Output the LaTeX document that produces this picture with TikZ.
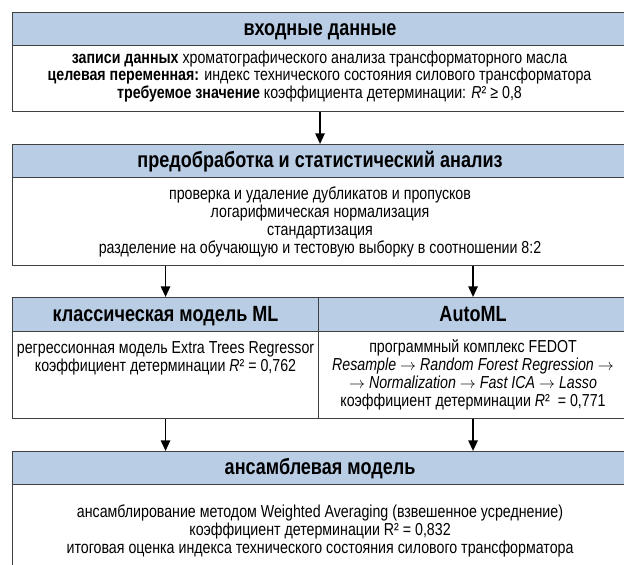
\documentclass[tikz,border=0pt]{standalone}
\usepackage{fontspec}
\setmainfont{Liberation Sans}[FakeStretch=0.82]
\usetikzlibrary{arrows.meta}
\definecolor{hdrblue}{HTML}{B9CDE5}
\definecolor{bordc}{HTML}{404040}
\newcommand\bodyf{\fontsize{13}{13.5}\selectfont}
\newcommand\bodyfs{\fontsize{13}{12}\selectfont}
\newcommand\hdrf{\bfseries\fontsize{16.5}{17}\selectfont}
\newcommand\myto{\ensuremath{\rightarrow}}
\begin{document}
\begin{tikzpicture}[x=0.75pt,y=-0.75pt,
  hdr/.style={draw=bordc, fill=hdrblue, line width=0.8pt, inner sep=0pt, anchor=north west, font=\hdrf, text height=10pt, text depth=0pt},
  bodyrect/.style={draw=bordc, line width=0.8pt, inner sep=0pt, anchor=north west},
  txt/.style={align=center, inner sep=0pt, font=\bodyf},
  arr/.style={line width=1.3pt, -{Triangle[length=8pt,width=7pt]}}]
\clip (0,0) rectangle (624,564);
\fill[white] (0,0) rectangle (624,564);
% box 1
\node[hdr, minimum width=615*0.75pt, minimum height=33*0.75pt] (h1) at (12,12) {входные данные};
\node[bodyrect, minimum width=615*0.75pt, minimum height=66*0.75pt] (b1) at (12,45) {};
\node[txt, font=\bodyfs] (t1) at (319.5,76.5) {\textbf{записи данных} хроматографического анализа трансформаторного масла\\
\textbf{целевая переменная:} индекс технического состояния силового трансформатора\\
\textbf{требуемое значение} коэффициента детерминации: \textit{R}² ≥ 0,8};
% box 2
\node[hdr, minimum width=615*0.75pt, minimum height=33*0.75pt] (h2) at (12,144) {предобработка и статистический анализ};
\node[bodyrect, minimum width=615*0.75pt, minimum height=88*0.75pt] (b2) at (12,177) {};
\node[txt] (t2) at (b2.center) {проверка и удаление дубликатов и пропусков\\
логарифмическая нормализация\\
стандартизация\\
разделение на обучающую и тестовую выборку в соотношении 8:2};
% box 3
\node[hdr, minimum width=306*0.75pt, minimum height=34*0.75pt] (h3a) at (12,297) {классическая модель ML};
\node[hdr, minimum width=309*0.75pt, minimum height=34*0.75pt] (h3b) at (318,297) {AutoML};
\node[bodyrect, minimum width=306*0.75pt, minimum height=87*0.75pt] (b3a) at (12,331) {};
\node[bodyrect, minimum width=309*0.75pt, minimum height=87*0.75pt] (b3b) at (318,331) {};
\node[txt, anchor=north] (t3a) at ([yshift=-7.5pt]b3a.north) {регрессионная модель Extra Trees Regressor\\
коэффициент детерминации \textit{R}² = 0,762};
\node[txt] (t3b) at (b3b.center) {программный комплекс FEDOT\\
\textit{Resample \myto{} Random Forest Regression \myto}\\
\textit{\myto{} Normalization \myto{} Fast ICA \myto{} Lasso}\\
коэффициент детерминации \textit{R}²~ = 0,771};
% box 4
\node[hdr, minimum width=615*0.75pt, minimum height=33*0.75pt] (h4) at (12,451) {ансамблевая модель};
\node[bodyrect, minimum width=615*0.75pt, minimum height=120*0.75pt] (b4) at (12,484) {};
\node[txt, anchor=north] (t4) at ([yshift=-15.5pt]b4.north) {ансамблирование методом Weighted Averaging (взвешенное усреднение)\\
коэффициент детерминации R² = 0,832\\
итоговая оценка индекса технического состояния силового трансформатора};
% arrows
\draw[arr] (b1.south) -- (h2.north);
\draw[arr] (b2.south -| h3a.north) -- (h3a.north);
\draw[arr] (b2.south -| h3b.north) -- (h3b.north);
\draw[arr] (b3a.south) -- (b3a.south |- h4.north);
\draw[arr] (b3b.south) -- (b3b.south |- h4.north);
\end{tikzpicture}
\end{document}
